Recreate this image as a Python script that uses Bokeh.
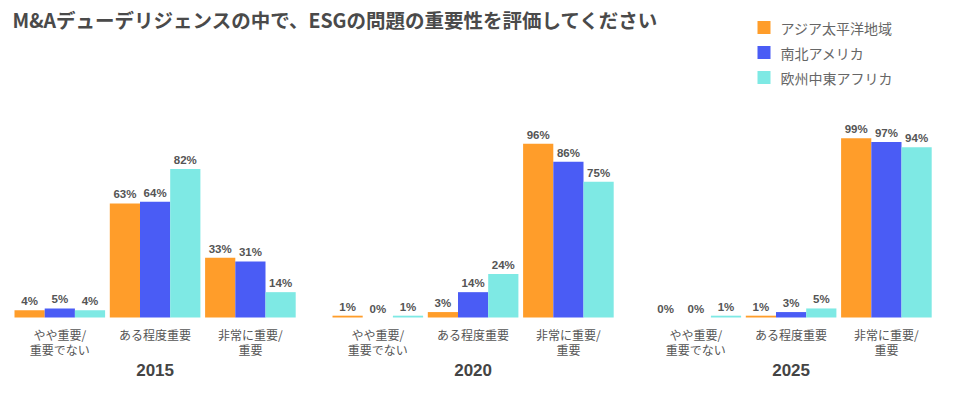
from bokeh.plotting import figure
from bokeh.models import Range1d, ColumnDataSource
from bokeh.core.properties import value
from bokeh.embed import file_html
from bokeh.resources import INLINE

# ---- data ----
title = "M&Aデューデリジェンスの中で、ESGの問題の重要性を評価してください"
years = ["2015", "2020", "2025"]
cat_line1 = ["やや重要/", "ある程度重要", "非常に重要/"]
cat_line2 = ["重要でない", "", "重要"]
regions = ["アジア太平洋地域", "南北アメリカ", "欧州中東アフリカ"]
asia_pacific = [4, 63, 33, 1, 3, 96, 0, 1, 99]
americas = [5, 64, 31, 0, 14, 86, 0, 3, 97]
emea = [4, 82, 14, 1, 24, 75, 1, 5, 94]
colors = ["#FF9D2A", "#4A5CF5", "#7EE9E4"]

# ---- layout ----
W, H = 972, 395
PX = 1.81          # pixels per percent
BASE = 78          # baseline distance from bottom (px)
X0 = 14            # first bar left edge (px)
BAR_W = 30.2
CAT_STEP = 3 * BAR_W + 4.7
GROUP_STEP = 3 * CAT_STEP - 4.7 + 36.8

def ydata(top_px):
    return (H - top_px - BASE) / PX

p = figure(width=W, height=H, output_backend="svg", toolbar_location=None,
           x_range=Range1d(0, W), y_range=Range1d(-BASE / PX, (H - BASE) / PX),
           min_border=0, outline_line_color=None)
p.axis.visible = False
p.grid.visible = False
p.background_fill_color = "white"

series = [asia_pacific, americas, emea]
for ri, vals in enumerate(series):
    xs, ys, labels = [], [], []
    for i, v in enumerate(vals):
        gi, ci = divmod(i, 3)
        xs.append(X0 + gi * GROUP_STEP + ci * CAT_STEP + ri * BAR_W + BAR_W / 2)
        ys.append(v)
        labels.append(f"{v}%")
    src = ColumnDataSource(dict(x=xs, top=ys, label=labels))
    p.vbar(x="x", top="top", bottom=0, width=BAR_W, source=src,
           fill_color=colors[ri], line_color=None)
    p.text(x="x", y="top", text="label", source=src, text_align="center",
           text_baseline="alphabetic", y_offset=-9, text_color="#555555",
           text_font=value("Liberation Sans"), text_font_style="bold",
           text_font_size="11.5px")

# category labels
cx, l1, l2 = [], [], []
for gi in range(len(years)):
    for ci in range(3):
        cx.append(X0 + gi * GROUP_STEP + ci * CAT_STEP + 1.5 * BAR_W)
        l1.append(cat_line1[ci])
        l2.append(cat_line2[ci])
cs = ColumnDataSource(dict(x=cx, y=[0] * len(cx), l1=l1, l2=l2))
for col, off in (("l1", 17), ("l2", 32)):
    p.text(x="x", y="y", text=col, source=cs, text_align="center",
           text_baseline="middle", y_offset=off, text_color="#555555",
           text_font=value("Noto Sans CJK JP"), text_font_size="12px")

# year labels
yx = [X0 + gi * GROUP_STEP + 4.5 * BAR_W + 4.7 for gi in range(len(years))]
ys_ = ColumnDataSource(dict(x=yx, y=[0] * 3, t=years))
p.text(x="x", y="y", text="t", source=ys_, text_align="center",
       text_baseline="middle", y_offset=52, text_color="#444444",
       text_font=value("Liberation Sans"), text_font_style="bold",
       text_font_size="17px")

# title
p.text(x=[12], y=[ydata(19)], text=[title], text_align="left",
       text_baseline="middle", text_color="#4A4A4A",
       text_font=value("Noto Sans CJK JP"), text_font_style="bold",
       text_font_size="19.5px")

# legend (manual)
lx, ly = 763.5, [27, 52, 77]
for ri in range(3):
    p.rect(x=[lx], y=[ydata(ly[ri])], width=13, height=13, width_units="screen",
           height_units="screen", fill_color=colors[ri], line_color=None)
    p.text(x=[lx + 16.5], y=[ydata(ly[ri])], text=[regions[ri]], text_align="left",
           text_baseline="middle", text_color="#666666",
           text_font=value("Noto Sans CJK JP"), text_font_size="14px")

open("out.html", "w").write(file_html(p, INLINE))
